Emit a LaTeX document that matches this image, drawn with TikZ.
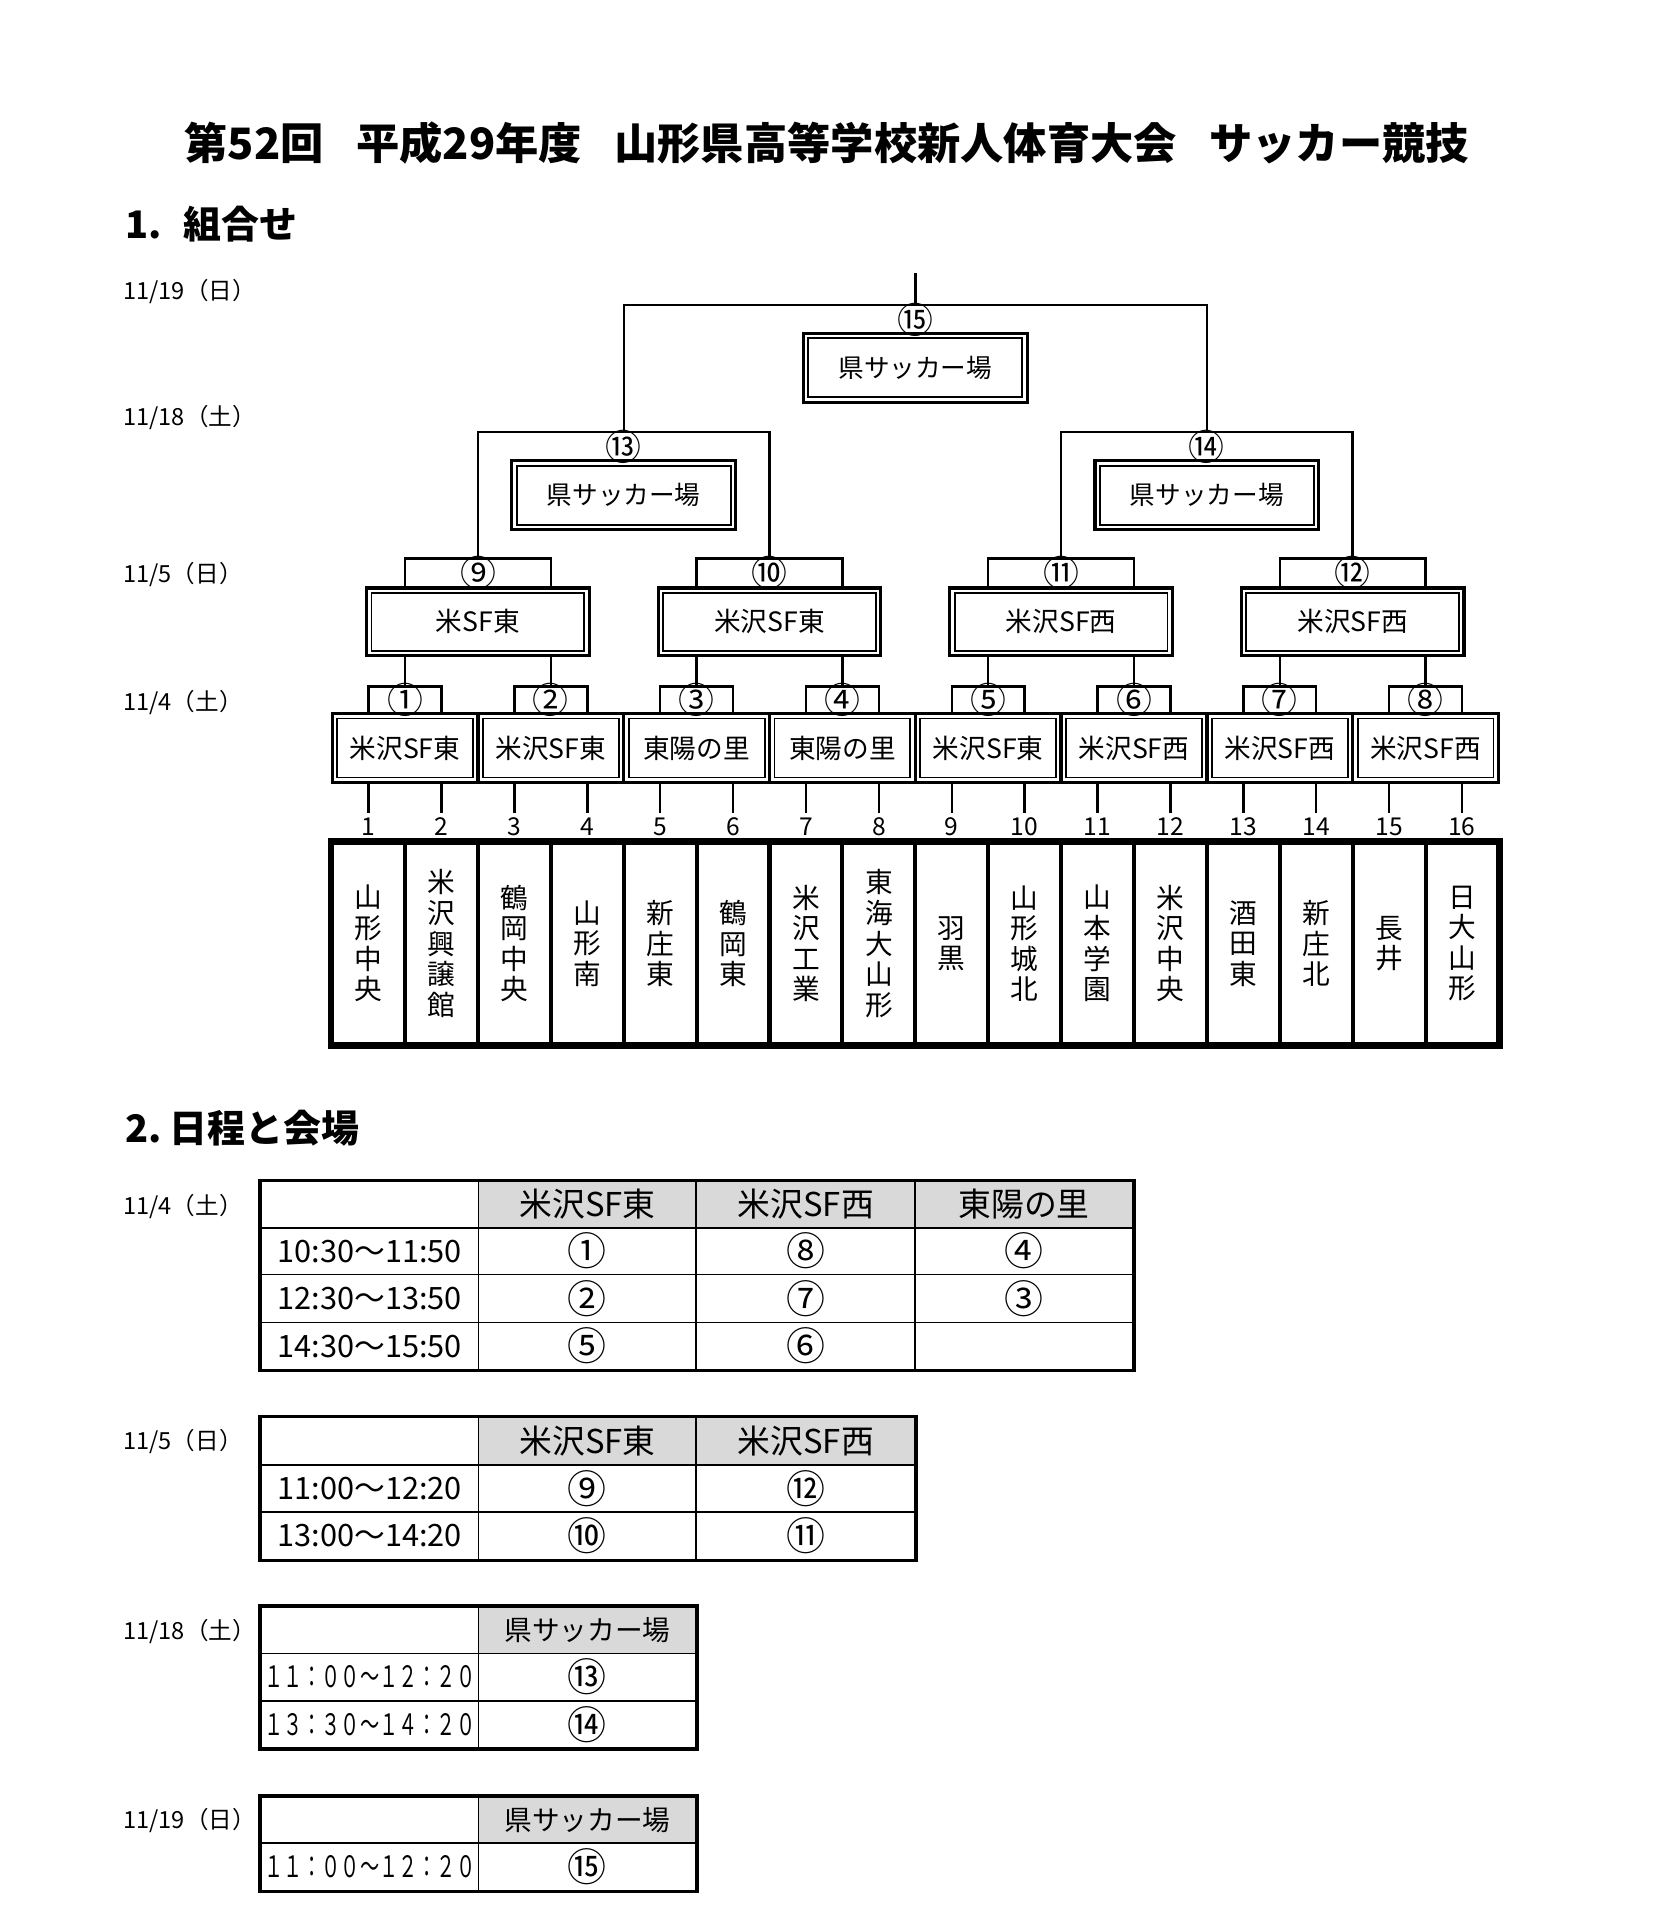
\documentclass[tikz,border=0pt]{standalone}
\usepackage{fontspec}
\usepackage{graphicx}
\setmainfont{Noto Sans CJK JP}
\definecolor{hdrgray}{RGB}{217,217,217}
\newcommand\tcell[7]{%
  \node[tcs,#6,minimum width={(#4-#2)*0.6pt},minimum height={(#5-#3)*0.6pt}] (#1) at ({(#2+#4)/2},{(#3+#5)/2}) {#7};}
\begin{document}
\begin{tikzpicture}[x=0.6pt,y=-0.6pt]
\tikzset{
  brk/.style={line width=1.2pt},
  dbox/.style={draw, fill=white, line width=1.6pt, inner sep=0pt,
    path picture={\draw[line width=0.9pt]
      ([shift={(2.4pt,2.4pt)}]path picture bounding box.south west) rectangle
      ([shift={(-2.4pt,-2.4pt)}]path picture bounding box.north east);}},
  r1box/.style={dbox, minimum width=71.1pt, minimum height=33.6pt, font=\fontsize{13pt}{15pt}\selectfont},
  r2box/.style={dbox, minimum width=108.6pt, minimum height=33pt, font=\fontsize{13pt}{15pt}\selectfont},
  r3box/.style={dbox, minimum width=109.2pt, minimum height=33.6pt, font=\fontsize{12.5pt}{15pt}\selectfont},
  mlbl/.style={inner sep=0pt, font=\fontsize{17.5pt}{18pt}\selectfont},
  numlbl/.style={inner sep=0pt, outer sep=2.4pt, font=\fontsize{12pt}{14pt}\selectfont},
  teambox/.style={draw, line width=2pt, minimum width=35.55pt, minimum height=98.4pt, inner sep=0pt, align=center, font=\fontsize{13.5pt}{14.9pt}\selectfont},
  datelbl/.style={anchor=west, inner sep=0pt, font=\fontsize{11.5pt}{13pt}\selectfont},
  tcs/.style={draw, line width=0.9pt, inner sep=0pt},
  thdr/.style={fill=hdrgray, font=\fontsize{16pt}{18pt}\selectfont},
  thdrb/.style={fill=hdrgray, font=\fontsize{13.5pt}{16pt}\selectfont},
  ttime/.style={font=\fontsize{15pt}{17pt}\selectfont},
  ttimew/.style={font=\fontsize{14.4pt}{17pt}\selectfont},
  tnum/.style={font=\fontsize{19pt}{20pt}\selectfont},
  tout/.style={line width=1.5pt},
}
\useasboundingbox (0,0) rectangle (1344.5,1568);

% ---------- titles ----------
\node[inner sep=0pt, font=\bfseries\fontsize{21.1pt}{24pt}\selectfont] (title) at (672,116)
  {第52回\hspace{0.75em}平成29年度\hspace{0.75em}山形県高等学校新人体育大会\hspace{0.75em}サッカー競技};
\node[anchor=west, inner sep=0pt, font=\bfseries\fontsize{18.5pt}{22pt}\selectfont] (h1) at (102,182) {1.\hspace{0.55em}組合せ};
\node[anchor=west, inner sep=0pt, font=\bfseries\fontsize{18.5pt}{22pt}\selectfont] (h2) at (102,917) {2.\hspace{0.2em}日程と会場};

% ---------- bracket dates ----------
\node[datelbl] (dt1) at (100,237) {11/19（日）};
\node[datelbl] (dt2) at (100,339) {11/18（土）};
\node[datelbl] (dt3) at (100,467) {11/5（日）};
\node[datelbl] (dt4) at (100,571) {11/4（土）};

% ---------- numbers ----------
\foreach \c in {1,...,16} {
  \node[numlbl] (n\c) at ({270+59.25*(\c-0.5)},672) {\c};
  \coordinate (a\c) at ({270+59.25*(\c-0.5)},558);
}
\foreach \k in {1,...,8} { \coordinate (b\k) at ({270+118.5*(\k-0.5)},454); }
\foreach \k in {1,...,4} { \coordinate (c\k) at ({270+237*(\k-0.5)},351); }
\foreach \k in {1,2} { \coordinate (d\k) at ({270+474*(\k-0.5)},248); }
\coordinate (e) at (744,222);

% ---------- bracket lines ----------
\foreach \k [evaluate=\k as \i using int(2*\k-1), evaluate=\k as \j using int(2*\k)] in {1,...,8}
  \draw[brk] (n\i.north) -- (a\i) -- (a\j) -- (n\j.north);
\foreach \k [evaluate=\k as \i using int(2*\k-1), evaluate=\k as \j using int(2*\k)] in {1,...,4}
  \draw[brk] (b\i |- a1) -- (b\i) -- (b\j) -- (b\j |- a1);
\foreach \k [evaluate=\k as \i using int(2*\k-1), evaluate=\k as \j using int(2*\k)] in {1,2}
  \draw[brk] (c\i |- b1) -- (c\i) -- (c\j) -- (c\j |- b1);
\draw[brk] (d1 |- c1) -- (d1) -- (d2) -- (d2 |- c1);
\draw[brk] (e |- d1) -- (e);

% ---------- round 1 venue boxes ----------
\foreach \k/\t in {1/米沢SF東,2/米沢SF東,3/東陽の里,4/東陽の里,5/米沢SF東,6/米沢SF西,7/米沢SF西,8/米沢SF西}
  \node[r1box] (r1-\k) at ({270+118.5*(\k-0.5)},608) {\t};
\foreach \k/\t in {1/①,2/②,3/③,4/④,5/⑤,6/⑥,7/⑦,8/⑧}
  \node[mlbl] (m\k) at ({270+118.5*(\k-0.5)},569) {\t};

% ---------- round 2 ----------
\foreach \k/\t in {1/米SF東,2/米沢SF東,3/米沢SF西,4/米沢SF西}
  \node[r2box] (r2-\k) at ({270+237*(\k-0.5)},505.5) {\t};
\foreach \k/\t in {1/⑨,2/⑩,3/⑪,4/⑫}
  \node[mlbl] (m2-\k) at ({270+237*(\k-0.5)},466) {\t};

% ---------- round 3 ----------
\foreach \k/\t in {1/⑬,2/⑭} {
  \node[r3box] (r3-\k) at ({270+474*(\k-0.5)},402.5) {県サッカー場};
  \node[mlbl] (m3-\k) at ({270+474*(\k-0.5)},363) {\t};
}
% ---------- final ----------
\node[r3box] (r4) at (744,299) {県サッカー場};
\node[mlbl] (m4) at (744,260) {⑮};

% ---------- teams ----------
\node[teambox] (t1) at (299.625,767) {山\\形\\中\\央};
\node[teambox] (t2) at (358.875,767) {米\\沢\\興\\譲\\館};
\node[teambox] (t3) at (418.125,767) {鶴\\岡\\中\\央};
\node[teambox] (t4) at (477.375,767) {山\\形\\南};
\node[teambox] (t5) at (536.625,767) {新\\庄\\東};
\node[teambox] (t6) at (595.875,767) {鶴\\岡\\東};
\node[teambox] (t7) at (655.125,767) {米\\沢\\工\\業};
\node[teambox] (t8) at (714.375,767) {東\\海\\大\\山\\形};
\node[teambox] (t9) at (773.625,767) {羽\\黒};
\node[teambox] (t10) at (832.875,767) {山\\形\\城\\北};
\node[teambox] (t11) at (892.125,767) {山\\本\\学\\園};
\node[teambox] (t12) at (951.375,767) {米\\沢\\中\\央};
\node[teambox] (t13) at (1010.625,767) {酒\\田\\東};
\node[teambox] (t14) at (1069.875,767) {新\\庄\\北};
\node[teambox] (t15) at (1129.125,767) {長\\井};
\node[teambox] (t16) at (1188.375,767) {日\\大\\山\\形};
\draw[line width=2.4pt] (t1.north west) rectangle (t16.south east);

% ---------- table 1 : 11/4 ----------
\node[datelbl] (dd1) at (100,981) {11/4（土）};
\tcell{ta00}{212}{960}{389}{998}{}{}
\tcell{ta01}{389}{960}{566}{998}{thdr}{米沢SF東}
\tcell{ta02}{566}{960}{744}{998}{thdr}{米沢SF西}
\tcell{ta03}{744}{960}{921}{998}{thdr}{東陽の里}
\tcell{ta10}{212}{998}{389}{1036}{ttime}{10:30～11:50}
\tcell{ta11}{389}{998}{566}{1036}{tnum}{①}
\tcell{ta12}{566}{998}{744}{1036}{tnum}{⑧}
\tcell{ta13}{744}{998}{921}{1036}{tnum}{④}
\tcell{ta20}{212}{1036}{389}{1075}{ttime}{12:30～13:50}
\tcell{ta21}{389}{1036}{566}{1075}{tnum}{②}
\tcell{ta22}{566}{1036}{744}{1075}{tnum}{⑦}
\tcell{ta23}{744}{1036}{921}{1075}{tnum}{③}
\tcell{ta30}{212}{1075}{389}{1113.5}{ttime}{14:30～15:50}
\tcell{ta31}{389}{1075}{566}{1113.5}{tnum}{⑤}
\tcell{ta32}{566}{1075}{744}{1113.5}{tnum}{⑥}
\tcell{ta33}{744}{1075}{921}{1113.5}{}{}
\draw[tout] (ta00.north west) rectangle (ta33.south east);

% ---------- table 2 : 11/5 ----------
\node[datelbl] (dd2) at (100,1172) {11/5（日）};
\tcell{tb00}{212}{1152}{389}{1191}{}{}
\tcell{tb01}{389}{1152}{566}{1191}{thdr}{米沢SF東}
\tcell{tb02}{566}{1152}{744}{1191}{thdr}{米沢SF西}
\tcell{tb10}{212}{1191}{389}{1229}{ttime}{11:00～12:20}
\tcell{tb11}{389}{1191}{566}{1229}{tnum}{⑨}
\tcell{tb12}{566}{1191}{744}{1229}{tnum}{⑫}
\tcell{tb20}{212}{1229}{389}{1268}{ttime}{13:00～14:20}
\tcell{tb21}{389}{1229}{566}{1268}{tnum}{⑩}
\tcell{tb22}{566}{1229}{744}{1268}{tnum}{⑪}
\draw[tout] (tb00.north west) rectangle (tb22.south east);

% ---------- table 3 : 11/18 ----------
\node[datelbl] (dd3) at (100,1326) {11/18（土）};
\tcell{tc00}{212}{1306}{389}{1344}{}{}
\tcell{tc01}{389}{1306}{566}{1344}{thdrb}{県サッカー場}
\tcell{tc10}{212}{1344}{389}{1382.5}{ttimew}{\scalebox{0.65}[1]{１１：００～１２：２０}}
\tcell{tc11}{389}{1344}{566}{1382.5}{tnum}{⑬}
\tcell{tc20}{212}{1382.5}{389}{1421}{ttimew}{\scalebox{0.65}[1]{１３：３０～１４：２０}}
\tcell{tc21}{389}{1382.5}{566}{1421}{tnum}{⑭}
\draw[tout] (tc00.north west) rectangle (tc21.south east);

% ---------- table 4 : 11/19 ----------
\node[datelbl] (dd4) at (100,1480) {11/19（日）};
\tcell{td00}{212}{1460.5}{389}{1498}{}{}
\tcell{td01}{389}{1460.5}{566}{1498}{thdrb}{県サッカー場}
\tcell{td10}{212}{1498}{389}{1537}{ttimew}{\scalebox{0.65}[1]{１１：００～１２：２０}}
\tcell{td11}{389}{1498}{566}{1537}{tnum}{⑮}
\draw[tout] (td00.north west) rectangle (td11.south east);
\end{tikzpicture}
\end{document}
